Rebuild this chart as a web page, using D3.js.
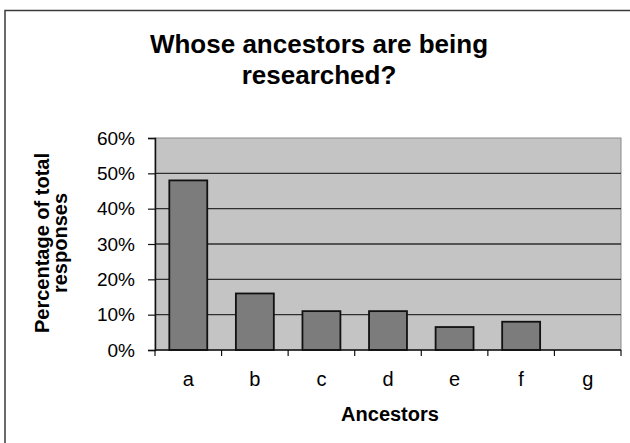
<!DOCTYPE html>
<html lang="en">
<head>
    <meta charset="UTF-8">
    <title>Whose ancestors are being researched?</title>
    <script src="https://cdn.jsdelivr.net/npm/d3@7/dist/d3.min.js"></script>
    <style>
        body { margin: 0; background: #fff; }
        text { font-family: Arial, "Liberation Sans", sans-serif; fill: #000; }
    </style>
</head>
<body>
<svg width="630" height="443"></svg>
<script>
    // data
    var categories = ['a', 'b', 'c', 'd', 'e', 'f', 'g'];
    var values = [0.48, 0.16, 0.11, 0.11, 0.065, 0.08, 0];
    var yTicks = [0, 0.1, 0.2, 0.3, 0.4, 0.5, 0.6];
    var titleLines = ['Whose ancestors are being', 'researched?'];
    var yTitleLines = ['Percentage of total', 'responses'];
    var xTitle = 'Ancestors';

    var svg = d3.select('svg');
    var plotLeft = 155, plotRight = 621, plotTop = 138, plotBottom = 350;

    // outer frame (only top and left edge are visible)
    svg.append('path')
        .attr('d', 'M5,460 L5,10.5 L640,10.5')
        .attr('fill', 'none')
        .attr('stroke', '#3a3a3a')
        .attr('stroke-width', 1.5);

    var x = d3.scaleBand()
        .domain(categories)
        .range([plotLeft, plotRight])
        .paddingInner(0.43)
        .paddingOuter(0.215);

    var y = d3.scaleLinear()
        .domain([0, 0.6])
        .range([plotBottom, plotTop]);

    // plot area
    svg.append('rect')
        .attr('x', plotLeft).attr('y', plotTop)
        .attr('width', plotRight - plotLeft).attr('height', plotBottom - plotTop)
        .attr('fill', '#c4c4c4')
        .attr('stroke', '#8a8a8a')
        .attr('stroke-width', 1);

    // gridlines
    svg.append('g').selectAll('line')
        .data(yTicks.filter(function (d) { return d > 0 && d < 0.6; }))
        .enter().append('line')
        .attr('x1', plotLeft).attr('x2', plotRight)
        .attr('y1', function (d) { return y(d); })
        .attr('y2', function (d) { return y(d); })
        .attr('stroke', '#2e2e2e')
        .attr('stroke-width', 1.3);

    // bars
    svg.append('g').selectAll('rect')
        .data(values)
        .enter().append('rect')
        .attr('x', function (d, i) { return x(categories[i]); })
        .attr('y', function (d) { return y(d); })
        .attr('width', x.bandwidth())
        .attr('height', function (d) { return plotBottom - y(d); })
        .attr('fill', function (d) { return d > 0 ? '#7c7c7c' : 'none'; })
        .attr('stroke', function (d) { return d > 0 ? '#111' : 'none'; })
        .attr('stroke-width', 1.8);

    // y axis
    var yAxis = d3.axisLeft(y)
        .tickValues(yTicks)
        .tickFormat(d3.format('.0%'))
        .tickSize(7)
        .tickPadding(6);
    var gy = svg.append('g')
        .attr('transform', 'translate(' + plotLeft + ',0)')
        .call(yAxis);
    gy.select('.domain').attr('stroke', '#111').attr('stroke-width', 1.5);
    gy.selectAll('.tick line').attr('stroke', '#111').attr('stroke-width', 1.2);
    gy.selectAll('.tick text')
        .attr('font-family', null)
        .style('font-size', '19px')
        .attr('x', -20);

    // x axis: ticks on band boundaries
    var gx = svg.append('g');
    gx.append('line')
        .attr('x1', plotLeft).attr('x2', plotRight)
        .attr('y1', plotBottom).attr('y2', plotBottom)
        .attr('stroke', '#111').attr('stroke-width', 1.5);
    gx.selectAll('line.tk')
        .data(d3.range(categories.length + 1))
        .enter().append('line')
        .attr('class', 'tk')
        .attr('x1', function (i) { return plotLeft + i * x.step(); })
        .attr('x2', function (i) { return plotLeft + i * x.step(); })
        .attr('y1', plotBottom).attr('y2', plotBottom + 6)
        .attr('stroke', '#111').attr('stroke-width', 1.2);
    gx.selectAll('text')
        .data(categories)
        .enter().append('text')
        .attr('x', function (d) { return x(d) + x.bandwidth() / 2; })
        .attr('y', 386)
        .attr('text-anchor', 'middle')
        .style('font-size', '20px')
        .text(function (d) { return d; });

    // title
    svg.append('g').selectAll('text')
        .data(titleLines)
        .enter().append('text')
        .attr('x', 319)
        .attr('y', function (d, i) { return 53 + i * 31; })
        .attr('text-anchor', 'middle')
        .style('font-size', '26px')
        .style('font-weight', 'bold')
        .text(function (d) { return d; });

    // axis titles
    svg.append('text')
        .attr('x', 390).attr('y', 421)
        .attr('text-anchor', 'middle')
        .style('font-size', '20px')
        .style('font-weight', 'bold')
        .text(xTitle);

    svg.append('g').selectAll('text')
        .data(yTitleLines)
        .enter().append('text')
        .attr('transform', function (d, i) { return 'translate(' + (49 + i * 18) + ',243) rotate(-90)'; })
        .attr('text-anchor', 'middle')
        .style('font-size', '20px')
        .style('font-weight', 'bold')
        .text(function (d) { return d; });
</script>
</body>
</html>
